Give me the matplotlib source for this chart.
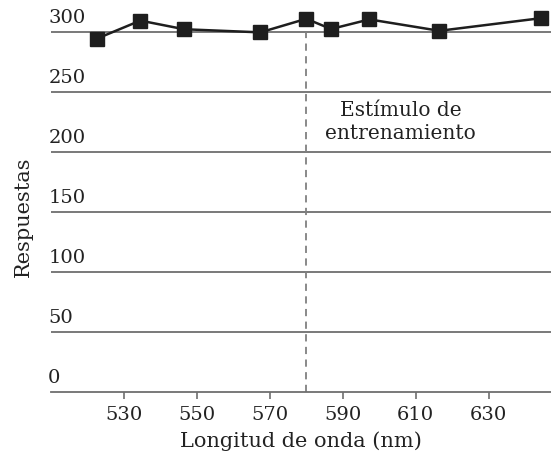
import matplotlib
matplotlib.use("Agg")
import matplotlib.pyplot as plt

wavelengths = [522.6, 534.5, 546.5, 567.4, 580, 586.8, 597.3, 616.5, 644.3]
responses = [294.5, 309.5, 302.3, 299.7, 311, 302.5, 310.5, 301, 311.5]
x_ticks = [530, 550, 570, 590, 610, 630]
y_ticks = [0, 50, 100, 150, 200, 250, 300]
training_stimulus = 580
annotation = "Estímulo de\nentrenamiento"
x_label = "Longitud de onda (nm)"
y_label = "Respuestas"

FONT = ["DejaVu Serif"]
TXT = "#222222"
GRID = "#6e6e6e"

fig = plt.figure(figsize=(5.51, 4.60), dpi=100)
ax = fig.add_axes([51 / 551, 67 / 460, 500 / 551, 390 / 460])
ax.set_xlim(510, 647.1)
ax.set_ylim(0, 325)

for s in ["top", "right", "left"]:
    ax.spines[s].set_visible(False)
ax.spines["bottom"].set_color(GRID)
ax.spines["bottom"].set_linewidth(1.3)

# horizontal reference lines
for yv in y_ticks[1:]:
    ax.axhline(yv, color=GRID, lw=1.3, zorder=1)

# y labels above each line, left aligned
ytr = ax.get_yaxis_transform()
for yv in y_ticks:
    ax.annotate(str(yv), xy=(0, yv), xycoords=ytr, xytext=(-2, 4),
                textcoords="offset points", ha="left", va="bottom",
                fontsize=14, family=FONT, color=TXT)
ax.set_yticks([])

ax.set_xticks(x_ticks)
ax.set_xticklabels([str(v) for v in x_ticks], fontsize=14, family=FONT, color=TXT)
ax.tick_params(axis="x", direction="out", length=5, width=1.2, color=GRID, pad=4.5)

# training stimulus dashed line
ax.plot([training_stimulus, training_stimulus], [0, y_ticks[-1]], color="#808080",
        lw=1.3, ls=(0, (4, 3)), zorder=1)

ax.plot(wavelengths, responses, color="#1e1e1e", lw=1.8, marker="s", markersize=9.5,
        markerfacecolor="#1e1e1e", markeredgecolor="#1e1e1e", zorder=3, clip_on=False)

ax.text(605.8, 226, annotation, ha="center", va="center", fontsize=14.5,
        family=FONT, color=TXT, linespacing=1.3)

ax.set_xlabel(x_label, fontsize=15, family=FONT, color=TXT, labelpad=5)
fig.text(23 / 551, 1 - 217 / 460, y_label, rotation=90, ha="center", va="center",
         fontsize=15, family=FONT, color=TXT)

fig.savefig("out.png", dpi=100)
